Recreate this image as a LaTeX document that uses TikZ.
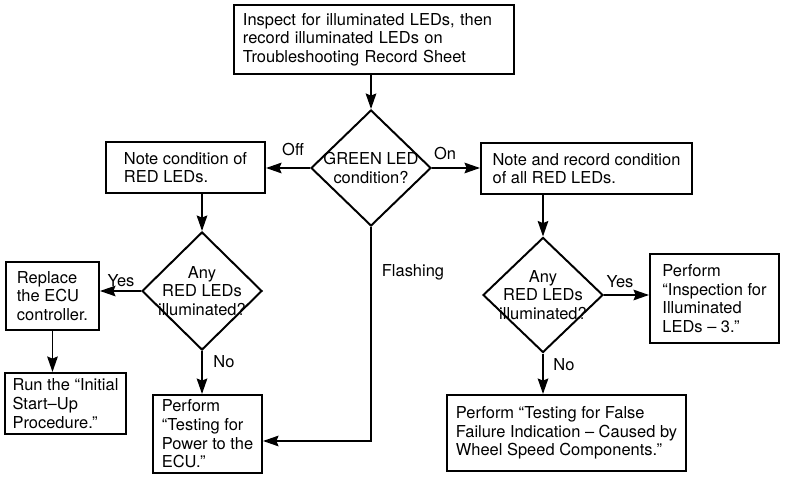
\documentclass[tikz,border=0pt]{standalone}
\usepackage{fontspec}
\setmainfont{TeX Gyre Heros}
\usetikzlibrary{shapes.geometric,arrows.meta}
\begin{document}
\begin{tikzpicture}[x=0.025cm,y=-0.025cm,
    every node/.style={font=\fontsize{11.7}{13.3}\selectfont},
    stepbox/.style={draw,line width=1.4pt,anchor=north west,align=left},
    decision/.style={draw,diamond,line width=1.4pt,inner sep=0pt,minimum width=3cm},
    flow/.style={line width=1.4pt,-{Stealth[length=11pt,width=7.5pt,inset=1.5pt]}}]
    \useasboundingbox (0,0) rectangle (800,484);
    % boxes
    \node[stepbox,minimum width=7cm,minimum height=1.725cm,inner xsep=0.225cm,text width=6.55cm] (check) at (233,4)
    {Inspect for illuminated LEDs, then\\record illuminated LEDs on\\Troubleshooting Record Sheet};
    \node[stepbox,minimum width=3.975cm,minimum height=1.275cm] (noteoff) at (105,141)
    {Note condition of\\RED LEDs.};
    \node[stepbox,minimum width=5.275cm,minimum height=1.275cm] (noteon) at (480,142)
    {Note and record condition\\of all RED LEDs.};
    \node[stepbox,minimum width=2.325cm,minimum height=1.7cm] (replace) at (5,261)
    {Replace\\the ECU\\controller.};
    \node[stepbox,minimum width=3.025cm,minimum height=1.525cm] (run) at (4,372)
    {Run the “Initial\\Start–Up\\Procedure.”};
    \node[stepbox,minimum width=2.725cm,minimum height=1.95cm] (performecu) at (152,394)
    {Perform\\“Testing for\\Power to the\\ECU.”};
    \node[stepbox,minimum width=3.225cm,minimum height=2.225cm] (inspect) at (649,253)
    {Perform\\“Inspection for\\Illuminated\\LEDs – 3.”};
    \node[stepbox,minimum width=5.975cm,minimum height=1.9cm] (falsefail) at (446,394)
    {Perform “Testing for False\\Failure Indication – Caused by\\Wheel Speed Components.”};
    % decisions
    \node[decision,minimum height=2.9cm] (green) at (371,168) {};
    \node[align=center] (greenq) at (green) {GREEN LED\\condition?};
    \node[decision,minimum height=2.95cm] (redoff) at (202,291) {};
    \node[align=center] (redoffq) at (redoff) {Any\\RED LEDs\\illuminated?};
    \node[decision,minimum height=2.875cm] (redon) at (543,295) {};
    \node[align=center] (redonq) at (redon) {Any\\RED LEDs\\illuminated?};
    % arrows
    \draw[flow] (check.south -| green.north) -- (green.north);
    \draw[flow] (green.west) -- (green.west -| noteoff.east);
    \draw[flow] (green.east) -- (green.east -| noteon.west);
    \draw[flow] (noteoff.south -| redoff.north) -- (redoff.north);
    \draw[flow] (noteon.south -| redon.north) -- (redon.north);
    \draw[flow] (redoff.west) -- (redoff.west -| replace.east);
    \draw[flow] (replace.south) -- (replace.south |- run.north);
    \draw[flow] (redoff.south) -- (redoff.south |- performecu.north);
    \draw[flow] (green.south) |- ([yshift=-0.175cm]performecu.east);
    \draw[flow] (redon.east) -- (redon.east -| inspect.west);
    \draw[flow] (redon.south) -- (redon.south |- falsefail.north);
    % labels
    \node (offlbl) at (293,150) {Off};
    \node (onlbl) at (445,154) {On};
    \node (flashlbl) at (413,272) {Flashing};
    \node (yesoff) at (121,281) {Yes};
    \node (nooff) at (224,362) {No};
    \node (yeson) at (620,282) {Yes};
    \node (noon) at (564,365) {No};
  \end{tikzpicture}
\end{document}
